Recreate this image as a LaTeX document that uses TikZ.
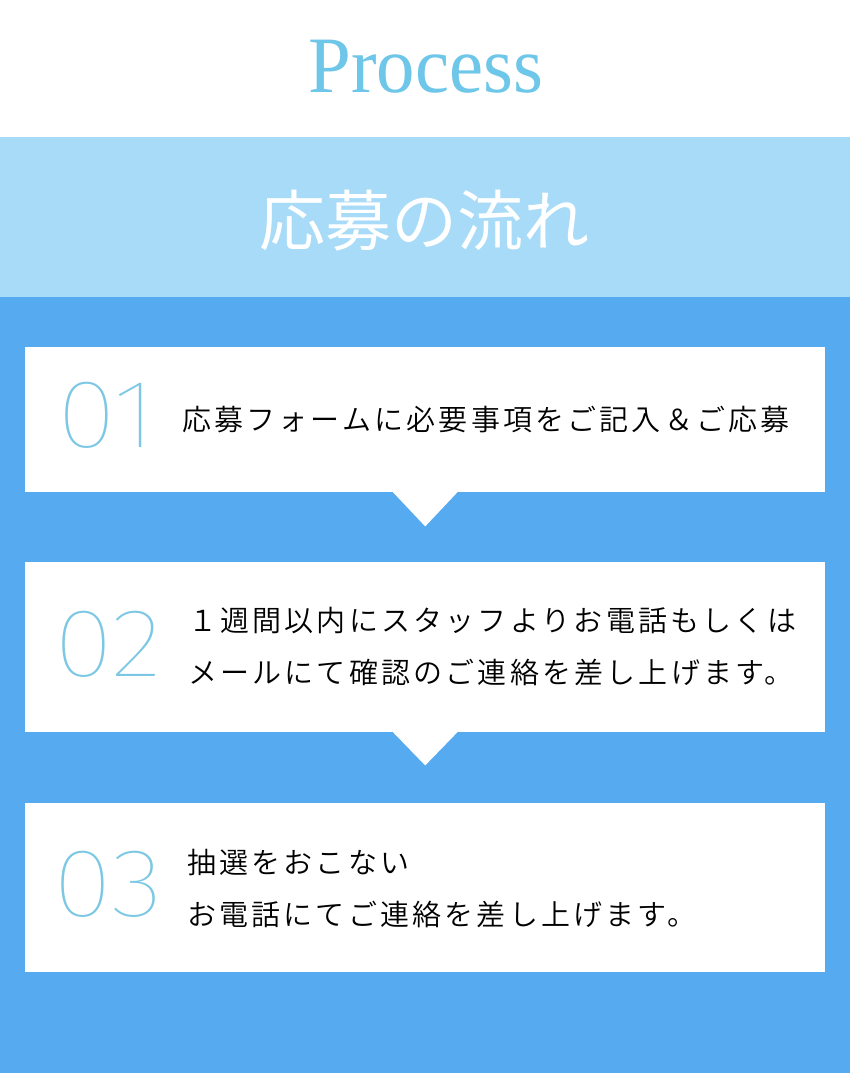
\documentclass[tikz,border=0pt]{standalone}
\usepackage{fontspec}
\IfFontExistsTF{Noto Sans CJK JP DemiLight}
  {\newfontfamily\cjkbody{Noto Sans CJK JP DemiLight}[LetterSpace=11]}
  {\IfFontExistsTF{Noto Sans CJK JP Light}
    {\newfontfamily\cjkbody{Noto Sans CJK JP Light}[LetterSpace=11]}
    {\newfontfamily\cjkbody{Noto Sans CJK JP}[LetterSpace=11]}}
\newfontfamily\cjktitle{Noto Sans CJK JP}
\IfFontExistsTF{Fira Sans Thin}
  {\newfontfamily\numfont{Fira Sans Thin}[Numbers=Proportional]}
  {\IfFontExistsTF{Fira Sans ExtraLight}
    {\newfontfamily\numfont{Fira Sans ExtraLight}[Numbers=Proportional]}
    {\IfFontExistsTF{Noto Sans Thin}
      {\newfontfamily\numfont{Noto Sans Thin}}
      {\IfFontExistsTF{Noto Sans CJK JP Thin}
        {\newfontfamily\numfont{Noto Sans CJK JP Thin}}
        {\newfontfamily\numfont{Liberation Sans}}}}}
\newfontfamily\procfont{Liberation Serif}
\definecolor{band}{HTML}{A7DBF8}
\definecolor{mainblue}{HTML}{55AAF0}
\definecolor{numblue}{HTML}{7CC8E4}
\definecolor{titleblue}{HTML}{6EC6E8}
\newcommand{\widenum}[1]{\scalebox{1.12}[1]{#1}}
\tikzset{
  stepbox/.style={fill=white, draw=none, inner sep=0pt, minimum width=800pt, anchor=north west},
  pointer/.style={fill=white},
  numlabel/.style={font=\numfont\fontsize{97}{97}\selectfont, text=numblue, anchor=base, inner sep=0pt},
  bodytext/.style={font=\cjkbody\fontsize{29}{52}\selectfont, text=black, anchor=base west, inner sep=0pt, align=left},
}
\begin{document}
\begin{tikzpicture}[x=1pt,y=-1pt]
\useasboundingbox (0,0) rectangle (850,1075);
\fill[white] (0,0) rectangle (850,1075);
\fill[band] (0,137) rectangle (850,297);
\fill[mainblue] (0,297) rectangle (850,1073);

\node[font=\procfont\fontsize{80}{80}\selectfont, text=titleblue, anchor=base, inner sep=0pt] (process) at (426,93) {\scalebox{0.96}[1]{Process}};
\node[font=\cjktitle\fontsize{66}{66}\selectfont, text=white, anchor=base, inner sep=0pt] (title) at (424,245) {応募の流れ};

\node[stepbox, minimum height=145pt] (box1) at (25,347) {};
\node[stepbox, minimum height=170pt] (box2) at (25,562) {};
\node[stepbox, minimum height=169pt] (box3) at (25,803) {};

\fill[pointer] ([xshift=-33pt,yshift=1pt]box1.south) -- ([xshift=33pt,yshift=1pt]box1.south) -- ([yshift=-34pt]box1.south) -- cycle;
\fill[pointer] ([xshift=-33pt,yshift=1pt]box2.south) -- ([xshift=33pt,yshift=1pt]box2.south) -- ([yshift=-33pt]box2.south) -- cycle;

\node[numlabel] (n1) at (107,447.5) {\widenum{01}};
\node[numlabel] (n2) at (108.5,676) {\widenum{02}};
\node[numlabel] (n3) at (108.5,916) {\widenum{03}};

\node[bodytext] (t1) at (182,430.6) {応募フォームに必要事項をご記入＆ご応募};
\node[bodytext] (t2) at (188,683.6) {１週間以内にスタッフよりお電話もしくは\\メールにて確認のご連絡を差し上げます。};
\node[bodytext] (t3) at (187,925.6) {抽選をおこない\\お電話にてご連絡を差し上げます。};
\end{tikzpicture}
\end{document}
